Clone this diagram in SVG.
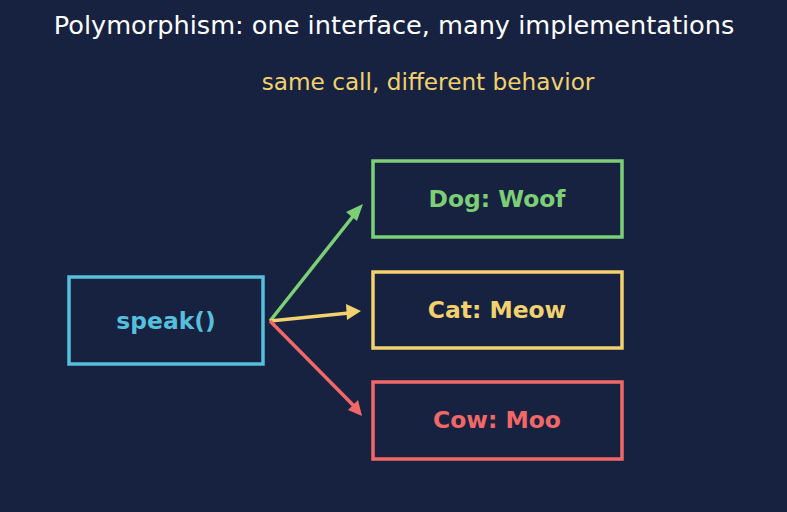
<svg xmlns="http://www.w3.org/2000/svg" width="787" height="512" viewBox="0 0 787 512">
<style>
.box{fill:none;stroke-width:3.5}
.lbl{font-family:"DejaVu Sans",sans-serif;font-weight:bold;font-size:23.4px;text-anchor:middle}
.edge{stroke-width:3.5;fill:none}
</style>
<rect width="787" height="512" fill="#172240"/>
<text x="394" y="34" font-family="DejaVu Sans,sans-serif" font-size="25.6" fill="#ffffff" text-anchor="middle">Polymorphism: one interface, many implementations</text>
<text x="428" y="90" font-family="DejaVu Sans,sans-serif" font-size="23.2" fill="#f2d16e" text-anchor="middle">same call, different behavior</text>
<g id="connectors">
<line class="edge" x1="270" y1="321" x2="354" y2="215" stroke="#7dcf76"/>
<path d="M363,204 L346,212 L357,221 z" fill="#7dcf76"/>
<line class="edge" x1="270" y1="321" x2="349" y2="313" stroke="#f2d16e"/>
<path d="M361,311 L346,304 L347,320 z" fill="#f2d16e"/>
<line class="edge" x1="270" y1="321" x2="354" y2="406" stroke="#f26868"/>
<path d="M362,416 L358,400 L348,410 z" fill="#f26868"/>
</g>
<g id="speak"><rect class="box" x="69" y="277" width="194" height="87" stroke="#56bfdc"/><text class="lbl" x="166" y="329" fill="#56bfdc">speak()</text></g>
<g id="dog"><rect class="box" x="373" y="161" width="249" height="76" stroke="#7dcf76"/><text class="lbl" x="497" y="207" fill="#7dcf76">Dog: Woof</text></g>
<g id="cat"><rect class="box" x="373" y="272" width="249" height="76" stroke="#f2d16e"/><text class="lbl" x="497" y="318" fill="#f2d16e">Cat: Meow</text></g>
<g id="cow"><rect class="box" x="373" y="382" width="249" height="77" stroke="#f26868"/><text class="lbl" x="497" y="428" fill="#f26868">Cow: Moo</text></g>
</svg>
